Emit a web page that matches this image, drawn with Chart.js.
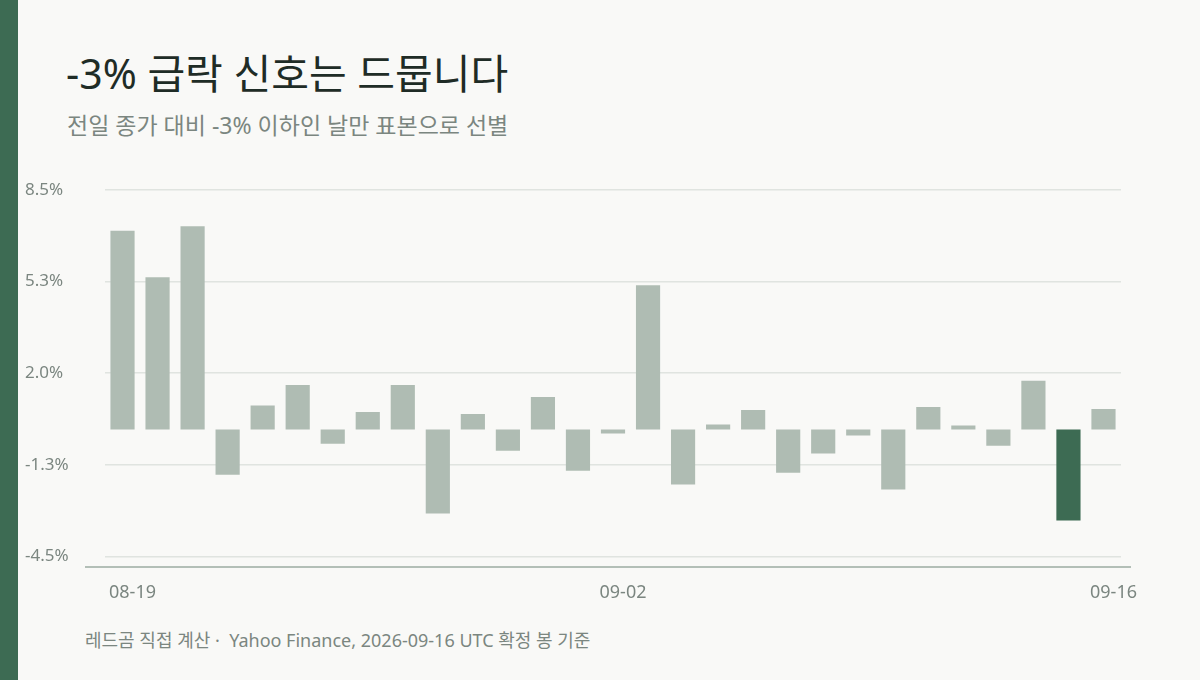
<!DOCTYPE html>
<html lang="ko">
<head>
<meta charset="utf-8">
<script src="https://cdn.jsdelivr.net/npm/chart.js@4"></script>
<style>
  html, body { margin: 0; padding: 0; }
  body {
    width: 1200px; height: 680px; overflow: hidden; position: relative;
    background: #f9f9f7;
    font-family: "Noto Sans", "Noto Sans CJK KR", sans-serif;
  }
  #stripe { position: absolute; left: 0; top: 0; width: 18px; height: 680px; background: #3d6b53; }
  #title { position: absolute; left: 66px; top: 41px; font-size: 41px; color: #1f2c26; }
  #subtitle { position: absolute; left: 67px; top: 107px; font-size: 23px; color: #7b8680; }
  #footer { position: absolute; left: 85px; top: 626px; font-size: 18px; color: #7b8680; }
  #wrap { position: absolute; left: 0; top: 0; width: 1200px; height: 680px; }
</style>
</head>
<body>
<div id="stripe"></div>
<div id="title">-3% 급락 신호는 드뭅니다</div>
<div id="subtitle">전일 종가 대비 -3% 이하인 날만 표본으로 선별</div>
<div id="footer">레드곰 직접 계산 ·&nbsp; Yahoo Finance, 2026-09-16 UTC 확정 봉 기준</div>
<div id="wrap"><canvas id="myChart" width="1200" height="680"></canvas></div>
<script>
// daily change vs previous close, %
const days = ['08-19','08-20','08-21','08-22','08-23','08-24','08-25','08-26','08-27','08-28',
              '08-29','08-30','08-31','09-01','09-02','09-03','09-04','09-05','09-06','09-07',
              '09-08','09-09','09-10','09-11','09-12','09-13','09-14','09-15','09-16'];
const changes = [7.05, 5.40, 7.21, -1.60, 0.85, 1.58, -0.50, 0.62, 1.58, -2.98,
                 0.55, -0.75, 1.16, -1.46, -0.14, 5.12, -1.95, 0.18, 0.69, -1.53,
                 -0.85, -0.21, -2.13, 0.80, 0.14, -0.57, 1.73, -3.23, 0.73];
const shownTicks = ['08-19', '09-02', '09-16'];
const signalDay = '09-15';

const gray = '#afbcb3';
const green = '#3d6b53';

// bottom baseline a bit under the plot, wider than the grid
const baseline = {
  id: 'baseline',
  afterDraw(chart) {
    const a = chart.chartArea;
    const c = chart.ctx;
    c.save();
    c.strokeStyle = '#b3bfb7';
    c.lineWidth = 2;
    c.beginPath();
    c.moveTo(a.left - 20, a.bottom + 10.5);
    c.lineTo(a.right + 10, a.bottom + 10.5);
    c.stroke();
    c.restore();
  }
};

const ctx = document.getElementById('myChart').getContext('2d');
const myChart = new Chart(ctx, {
  type: 'bar',
  data: {
    labels: days,
    datasets: [{
      data: changes,
      backgroundColor: days.map(d => d === signalDay ? green : gray),
      borderWidth: 0,
      barPercentage: 0.69,
      categoryPercentage: 1
    }]
  },
  options: {
    responsive: false,
    animation: false,
    layout: { padding: { left: 25, right: 79, top: 190, bottom: 50 } },
    plugins: { legend: { display: false }, tooltip: { enabled: false } },
    scales: {
      x: {
        grid: { display: false, drawTicks: false },
        border: { display: false },
        ticks: {
          autoSkip: false,
          maxRotation: 0,
          labelOffset: 10,
          padding: 26,
          color: '#7b8680',
          font: { family: '"Noto Sans", sans-serif', size: 18 },
          callback: function(v, i) {
            const d = days[i];
            return shownTicks.includes(d) ? d : '';
          }
        }
      },
      y: {
        min: -4.5,
        max: 8.5,
        afterBuildTicks: function(s) {
          s.ticks = [-4.5, -1.25, 2.0, 5.25, 8.5].map(v => ({ value: v }));
        },
        afterFit: function(s) { s.width = 80; },
        grid: { color: '#e0e4e0', lineWidth: 1.5, drawTicks: false },
        border: { display: false },
        ticks: {
          crossAlign: 'far',
          padding: 0,
          color: '#7b8680',
          font: { family: '"Noto Sans", sans-serif', size: 17 },
          callback: v => v.toFixed(1) + '%'
        }
      }
    }
  },
  plugins: [baseline]
});
</script>
</body>
</html>
